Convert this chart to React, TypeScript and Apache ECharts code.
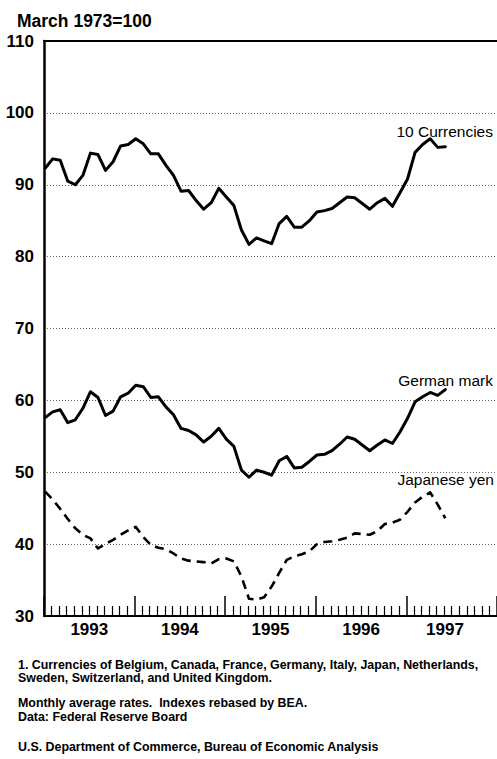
import React, { useEffect, useRef } from "react";
import * as echarts from "echarts";

// Monthly index values, Jan 1993 – Jun 1997 (March 1973 = 100)
const tenCurrencies = [92.3, 93.6, 93.4, 90.5, 90.0, 91.3, 94.4, 94.2, 92.0, 93.2, 95.4, 95.6, 96.4, 95.7, 94.3, 94.3, 92.7, 91.3, 89.1, 89.2, 87.8, 86.6, 87.5, 89.5, 88.3, 87.1, 83.7, 81.7, 82.6, 82.2, 81.8, 84.6, 85.6, 84.1, 84.1, 85.0, 86.2, 86.4, 86.7, 87.5, 88.3, 88.2, 87.4, 86.6, 87.5, 88.1, 87.0, 88.9, 90.8, 94.5, 95.6, 96.4, 95.2, 95.3];
const germanMark = [57.6, 58.4, 58.7, 56.9, 57.3, 58.9, 61.2, 60.4, 57.9, 58.5, 60.5, 61.0, 62.1, 61.9, 60.4, 60.5, 59.1, 58.0, 56.1, 55.8, 55.2, 54.2, 55.0, 56.1, 54.6, 53.6, 50.3, 49.3, 50.3, 50.0, 49.6, 51.6, 52.2, 50.6, 50.7, 51.5, 52.4, 52.5, 53.0, 53.9, 54.9, 54.6, 53.8, 53.0, 53.8, 54.5, 54.0, 55.6, 57.5, 59.8, 60.5, 61.1, 60.7, 61.5];
const japaneseYen = [47.3, 46.2, 44.9, 43.5, 42.2, 41.3, 40.8, 39.4, 40.0, 40.6, 41.3, 41.9, 42.4, 41.0, 39.9, 39.5, 39.3, 38.7, 38.0, 37.7, 37.6, 37.5, 37.3, 37.9, 38.0, 37.6, 35.5, 32.4, 32.3, 32.6, 34.1, 36.0, 37.8, 38.3, 38.6, 39.0, 40.0, 40.3, 40.4, 40.6, 40.9, 41.5, 41.4, 41.3, 41.8, 42.8, 43.0, 43.4, 44.5, 45.8, 46.6, 47.2, 45.5, 43.6];

const years = ["1993", "1994", "1995", "1996", "1997"];
const seriesNames = ["10 Currencies", "German mark", "Japanese yen"];
const subtitle = "March 1973=100";
const footnotes = [
  "1. Currencies of Belgium, Canada, France, Germany, Italy, Japan, Netherlands,",
  "Sweden, Switzerland, and United Kingdom.",
  "Monthly average rates.  Indexes rebased by BEA.",
  "Data: Federal Reserve Board",
  "U.S. Department of Commerce, Bureau of Economic Analysis",
];

const FONT = '"Liberation Sans", Arial, Helvetica, sans-serif';
const W = 497;
const H = 759;
const GRID_LEFT = 44;
const GRID_TOP = 41;
const GRID_BOTTOM_Y = 616;
const MONTH_PX = 7.78;
const X_MAX = 60; // months on axis (extends past the page edge)
const VISIBLE_MONTHS = (W - GRID_LEFT) / MONTH_PX;
const POINT_OFFSET = 0.15;

function toPairs(arr: number[]) {
  return arr.map((v, i) => [i + POINT_OFFSET, v]);
}

const yearLabelPos = years.map((_, k) => {
  const s = k * 12;
  return (s + Math.min(s + 12, VISIBLE_MONTHS)) / 2;
});

export default function App() {
  const ref = useRef<HTMLDivElement>(null);
  useEffect(() => {
    if (!ref.current) return;
    const chart = echarts.init(ref.current, null, { renderer: "svg" });
    const plotWidth = X_MAX * MONTH_PX;
    const lineBase = { type: "line", showSymbol: false, symbol: "none", silent: true };
    chart.setOption({
      animation: false,
      backgroundColor: "#ffffff",
      grid: {
        left: GRID_LEFT,
        top: GRID_TOP,
        width: plotWidth,
        height: GRID_BOTTOM_Y - GRID_TOP,
        containLabel: false,
      },
      xAxis: [
        {
          type: "value",
          position: "bottom",
          min: 0,
          max: X_MAX,
          interval: 12,
          axisLine: { show: true, lineStyle: { color: "#000", width: 2 } },
          axisTick: { show: true, inside: true, length: 20, lineStyle: { color: "#000", width: 1.5 } },
          minorTick: { show: true, splitNumber: 12, length: 10, lineStyle: { color: "#000", width: 1.2 } },
          splitLine: { show: false },
          minorSplitLine: { show: false },
          axisLabel: {
            show: true,
            customValues: yearLabelPos,
            formatter: (v: number) => {
              const idx = yearLabelPos.findIndex((p) => Math.abs(p - v) < 1e-6);
              return idx >= 0 ? years[idx] : "";
            },
            color: "#000",
            fontFamily: FONT,
            fontWeight: "bold",
            fontSize: 17,
            margin: 5,
          },
        },
        {
          type: "value",
          position: "top",
          min: 0,
          max: X_MAX,
          interval: 12,
          axisLine: { show: true, lineStyle: { color: "#000", width: 2 } },
          axisTick: { show: false },
          axisLabel: { show: false },
          splitLine: { show: false },
        },
      ],
      yAxis: {
        type: "value",
        min: 30,
        max: 110,
        interval: 10,
        axisLine: { show: true, lineStyle: { color: "#000", width: 2.5 } },
        axisTick: { show: false },
        axisLabel: {
          color: "#000",
          fontFamily: FONT,
          fontWeight: "bold",
          fontSize: 17,
          margin: 10,
        },
        splitLine: { show: true, lineStyle: { color: "#666", width: 1, type: [1, 2] } },
      },
      series: [
        {
          ...lineBase,
          name: seriesNames[0],
          data: toPairs(tenCurrencies),
          lineStyle: { color: "#000", width: 3, cap: "round", join: "round" },
        },
        {
          ...lineBase,
          name: seriesNames[1],
          data: toPairs(germanMark),
          lineStyle: { color: "#000", width: 3, cap: "round", join: "round" },
        },
        {
          ...lineBase,
          name: seriesNames[2],
          data: toPairs(japaneseYen),
          lineStyle: { color: "#000", width: 2.6, type: [9, 6], cap: "butt", join: "round" },
        },
      ],
      graphic: [
        {
          type: "text",
          left: 17,
          top: 12,
          style: { text: subtitle, fill: "#000", font: `bold 17.5px ${FONT}` },
        },
        {
          type: "text",
          x: 493,
          y: 131,
          style: { text: seriesNames[0], fill: "#000", font: `15.5px ${FONT}`, align: "right", verticalAlign: "middle" },
        },
        {
          type: "text",
          x: 493,
          y: 380,
          style: { text: seriesNames[1], fill: "#000", font: `15.5px ${FONT}`, align: "right", verticalAlign: "middle" },
        },
        {
          type: "text",
          x: 494,
          y: 479,
          style: { text: seriesNames[2], fill: "#000", font: `15.5px ${FONT}`, align: "right", verticalAlign: "middle" },
        },
        ...footnotes.map((t, k) => ({
          type: "text",
          x: 18,
          y: [665, 678, 703, 717, 747][k],
          style: { text: t, fill: "#000", font: `bold 12.4px ${FONT}`, verticalAlign: "middle" },
        })),
      ],
    });
    return () => chart.dispose();
  }, []);
  return (
    <div
      ref={ref}
      style={{ position: "absolute", left: 0, top: 0, width: W, height: H, background: "#fff", overflow: "hidden" }}
    />
  );
}
